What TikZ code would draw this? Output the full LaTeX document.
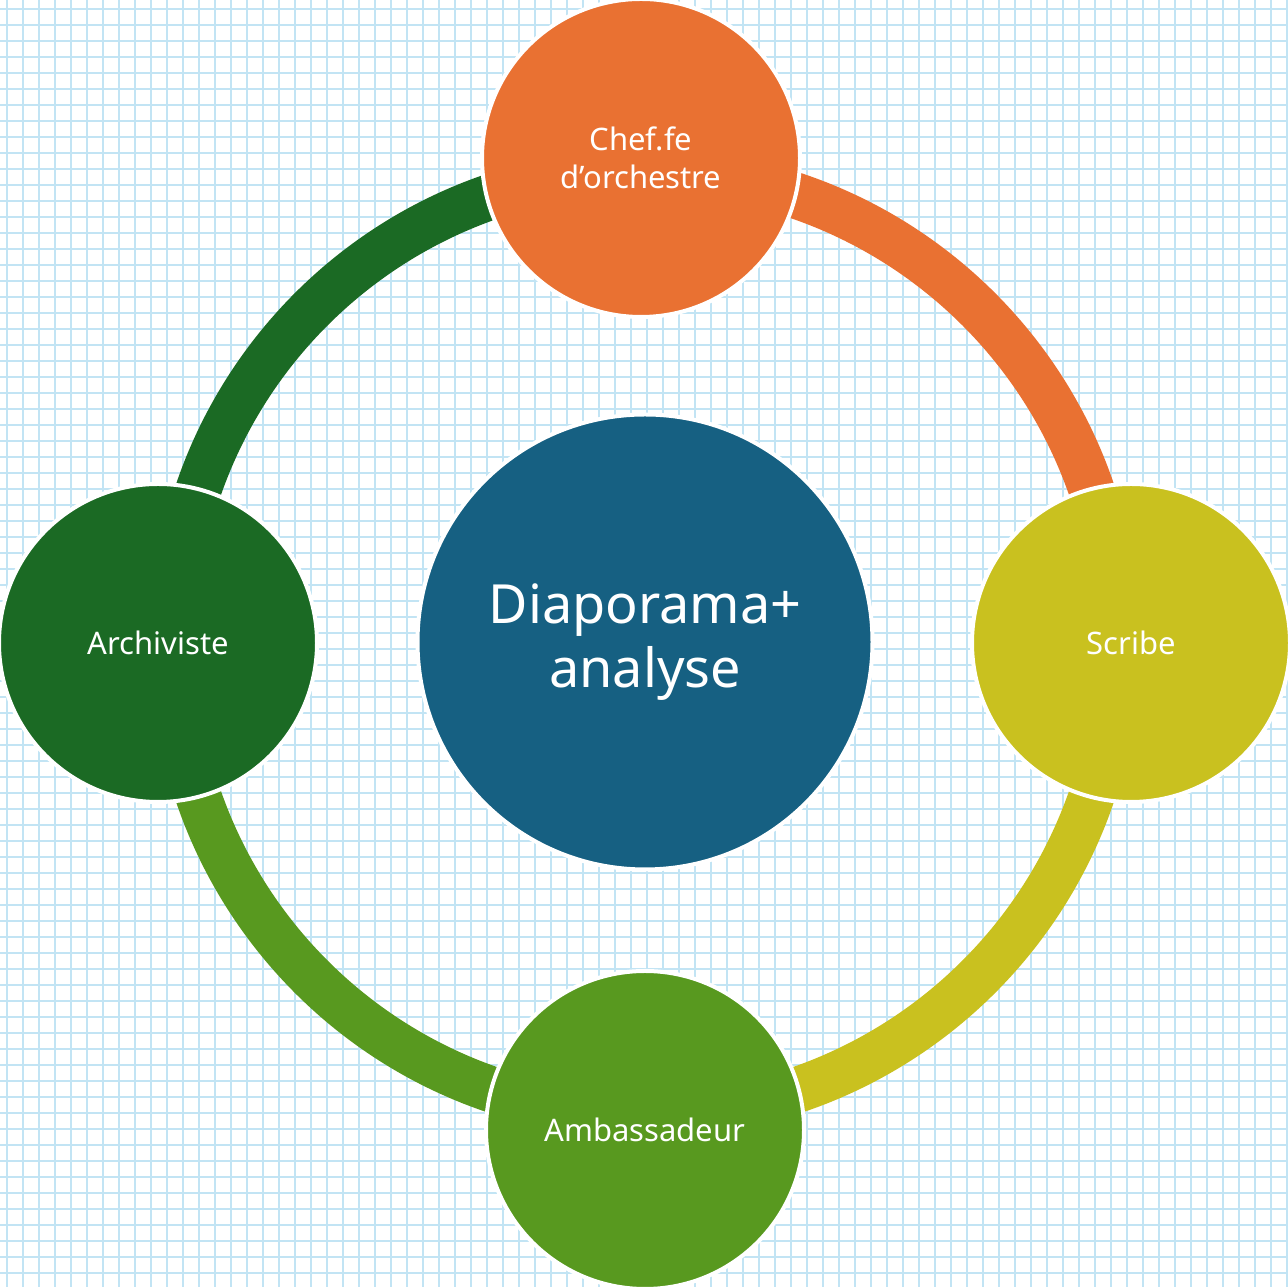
\documentclass[tikz,border=0pt]{standalone}
\usepackage{fontspec}
\setmainfont{Noto Sans}
\usetikzlibrary{calc}
\definecolor{gridc}{HTML}{C2E4F4}
\definecolor{corange}{HTML}{E97132}
\definecolor{cyellow}{HTML}{C9C11F}
\definecolor{cdgreen}{HTML}{1B6A24}
\definecolor{cgreen}{HTML}{58991F}
\definecolor{cblue}{HTML}{166082}
\begin{document}
\begin{tikzpicture}[x=1pt,y=1pt,
  role/.style={circle,draw=white,line width=4pt,minimum size=318pt,inner sep=0pt,text=white,align=center,font=\fontsize{31}{38}\selectfont},
  hub/.style={circle,draw=white,line width=4pt,minimum size=455pt,inner sep=0pt,text=white,align=center,font=\fontsize{54}{64}\selectfont},
  band/.style={line width=46pt}]
\useasboundingbox (0,0) rectangle (1288,1287);
\fill[white] (0,0) rectangle (1288,1287);
\foreach \k in {0,...,80} {
  \draw[gridc,line width=1.7pt] ({7.3+16*\k},0) -- ({7.3+16*\k},1287);
  \draw[gridc,line width=1.7pt] (0,{1287-9.3-16*\k}) -- (1288,{1287-9.3-16*\k});
}
\coordinate (c) at (645,644);
\draw[band,corange] ($(c)+(90:472)$) arc[start angle=90,end angle=0,radius=472];
\draw[band,cyellow] ($(c)+(0:472)$) arc[start angle=0,end angle=-90,radius=472];
\draw[band,cgreen] ($(c)+(-90:472)$) arc[start angle=-90,end angle=-180,radius=472];
\draw[band,cdgreen] ($(c)+(180:472)$) arc[start angle=180,end angle=90,radius=472];
\node[hub,fill=cblue] (hub) at (645,645) {Diaporama+\\analyse};
\node[role,fill=corange] (chef) at (641,1129) {Chef.fe\\d’orchestre};
\node[role,fill=cyellow] (scribe) at (1131,644) {Scribe};
\node[role,fill=cgreen] (amb) at (645,157) {Ambassadeur};
\node[role,fill=cdgreen] (arch) at (158,644) {Archiviste};
\end{tikzpicture}
\end{document}
